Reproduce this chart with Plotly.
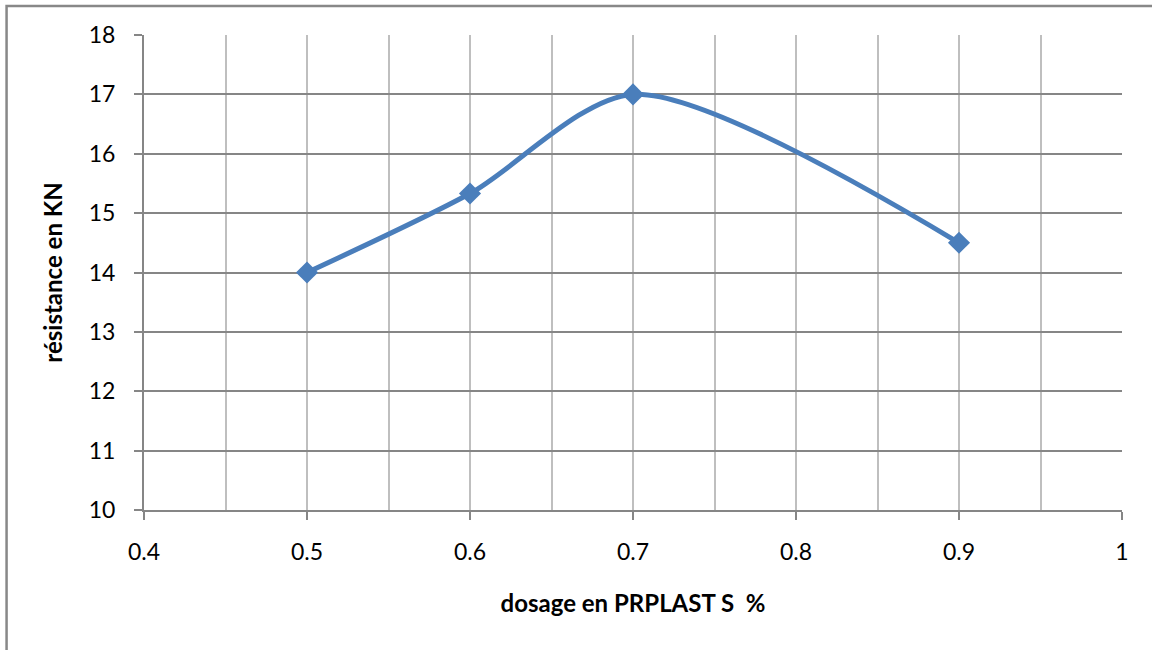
import plotly.graph_objects as go

dosage = [0.5, 0.6, 0.7, 0.9]
resistance = [14.0, 15.33, 17.0, 14.5]

x_ticks = [0.4, 0.5, 0.6, 0.7, 0.8, 0.9, 1.0]
x_tick_labels = ["0.4", "0.5", "0.6", "0.7", "0.8", "0.9", "1"]
y_ticks = [10, 11, 12, 13, 14, 15, 16, 17, 18]

FONT = "Lato, Carlito, Calibri, sans-serif"
W, H = 1152, 650
L, R, T, B = 143.5, 1152 - 1122, 35, 650 - 510
pw, ph = W - L - R, H - T - B

fig = go.Figure()
fig.add_trace(go.Scatter(
    x=dosage, y=resistance, mode="lines+markers",
    line=dict(color="#4A7EBB", width=5, shape="spline", smoothing=0.8),
    marker=dict(symbol="diamond", size=17, color="#4A7EBB"),
    showlegend=False,
))

fig.update_layout(
    width=W, height=H,
    margin=dict(l=L, r=R, t=T, b=B, pad=0),
    paper_bgcolor="white", plot_bgcolor="white",
    font=dict(family=FONT, size=23, color="black"),
    xaxis=dict(
        range=[0.4, 1.0], tickvals=x_ticks, ticktext=x_tick_labels,
        showgrid=True, gridcolor="#BFBFBF", gridwidth=1.5,
        minor=dict(dtick=0.05, tick0=0.4, showgrid=True, gridcolor="#BFBFBF", gridwidth=1.5, ticks=""),
        showline=True, linecolor="#868686", linewidth=2,
        ticks="outside", ticklen=8, tickcolor="#868686", tickwidth=2,
        ticklabelstandoff=12, zeroline=False,
        title=dict(text="dosage en PRPLAST S\u00a0 %", font=dict(family=FONT, size=24, color="black", weight="bold"), standoff=32),
    ),
    yaxis=dict(
        range=[10, 18], tickvals=y_ticks,
        showgrid=True, gridcolor="#868686", gridwidth=1.5,
        showline=True, linecolor="#868686", linewidth=2,
        ticks="outside", ticklen=8, tickcolor="#868686", tickwidth=2,
        ticklabelstandoff=14, zeroline=False,
        title=dict(text="résistance en KN", font=dict(family=FONT, size=24, color="black", weight="bold"), standoff=19),
    ),
    shapes=[dict(
        type="rect", xref="paper", yref="paper",
        x0=(6 - L) / pw, x1=(1165 - L) / pw,
        y0=(510 - 665) / ph, y1=1 + (T - 6) / ph,
        line=dict(color="#888888", width=2.5), fillcolor="rgba(0,0,0,0)", layer="below",
    )],
)

fig.write_html("out.html")
